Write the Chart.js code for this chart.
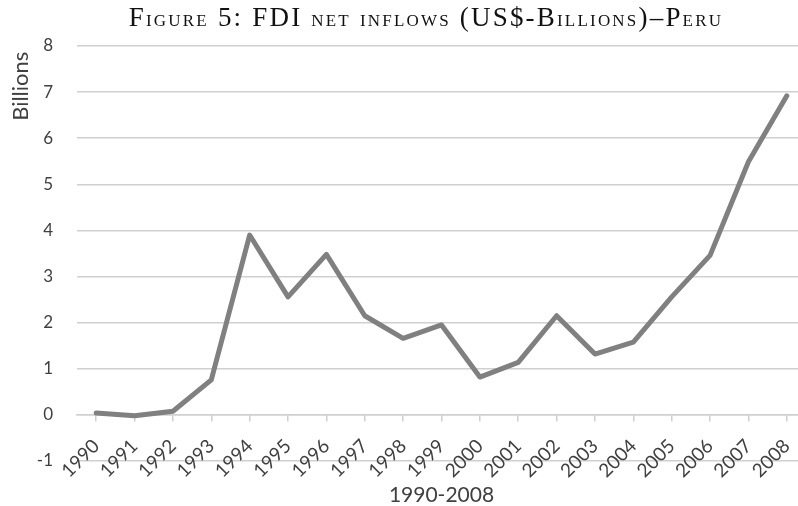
<!DOCTYPE html>
<html>
<head>
<meta charset="utf-8">
<script src="https://cdn.jsdelivr.net/npm/chart.js@4.4.1/dist/chart.umd.min.js"></script>
<style>
  html, body { margin: 0; padding: 0; background: #fff; overflow: hidden; }
  canvas { display: block; }
</style>
</head>
<body>
<canvas id="fdi-chart" width="808" height="506"></canvas>
<script>
// FDI net inflows into Peru, US$ billions
const years = ['1990', '1991', '1992', '1993', '1994', '1995', '1996', '1997', '1998', '1999',
               '2000', '2001', '2002', '2003', '2004', '2005', '2006', '2007', '2008'];
const fdiInflows = [0.04, -0.02, 0.08, 0.76, 3.90, 2.56, 3.48, 2.15, 1.66, 1.95,
                    0.82, 1.14, 2.15, 1.32, 1.58, 2.56, 3.46, 5.49, 6.92];
const yMin = -1;
const yMax = 8;

const chartTitle = 'Figure 5: FDI net inflows (US$-Billions)–Peru';
const yAxisTitle = 'Billions\u00a0';
const xAxisTitle = '1990-2008';

const tickFont = { family: 'Lato', size: 17 };
const yearFont = { family: 'Lato', size: 19 };
const labelColor = '#404040';
const gridColor = '#d0d0d0';

// canvas can't do small caps, so lowercase letters are drawn as smaller capitals
const smallCapsTitle = {
    id: 'smallCapsTitle',
    afterDraw(chart) {
        const ctx = chart.ctx;
        const bigFont = '27px "Liberation Serif"';
        const smallFont = '17px "Liberation Serif"';
        const spacing = 2.2;
        const parts = [];
        for (const ch of chartTitle) {
            const lower = ch !== ch.toUpperCase();
            parts.push({ text: ch.toUpperCase(), font: lower ? smallFont : bigFont });
        }
        ctx.save();
        let total = 0;
        parts.forEach(p => {
            ctx.font = p.font;
            p.w = ctx.measureText(p.text).width + spacing;
            total += p.w;
        });
        let x = 426 - total / 2;
        ctx.fillStyle = '#111';
        ctx.textBaseline = 'alphabetic';
        ctx.textAlign = 'left';
        parts.forEach(p => {
            ctx.font = p.font;
            ctx.fillText(p.text, x, 26);
            x += p.w;
        });
        ctx.restore();
    }
};

const ctx = document.getElementById('fdi-chart').getContext('2d');
const chart = new Chart(ctx, {
    type: 'line',
    data: {
        labels: years,
        datasets: [{
            label: 'FDI net inflows',
            data: fdiInflows,
            borderColor: '#808080',
            borderWidth: 5,
            borderJoinStyle: 'round',
            borderCapStyle: 'round',
            pointRadius: 0,
            tension: 0,
            fill: false
        }]
    },
    options: {
        responsive: false,
        animation: false,
        layout: { padding: { top: 46, left: 8, right: 2, bottom: 0 } },
        plugins: {
            legend: { display: false },
            tooltip: { enabled: false },
            title: {
                display: true,
                position: 'bottom',
                fullSize: false,
                text: xAxisTitle,
                color: labelColor,
                font: { family: 'Lato', size: 21, weight: 'normal', lineHeight: 1.0 },
                padding: { top: 24, bottom: 0 }
            }
        },
        scales: {
            x: {
                position: { y: 0 }, // axis line sits on zero
                offset: true,
                grid: {
                    drawOnChartArea: false,
                    drawTicks: true,
                    tickLength: 6,
                    color: gridColor,
                    lineWidth: 1.5
                },
                border: { display: true, color: gridColor, width: 1.5 },
                ticks: {
                    minRotation: 45,
                    maxRotation: 45,
                    autoSkip: false,
                    padding: 14,
                    color: labelColor,
                    font: yearFont
                },
                // labels hang below the zero line, so the axis takes no layout room
                afterFit(scale) {
                    scale.height = 0;
                    scale.paddingLeft = 0;
                    scale.paddingRight = 0;
                }
            },
            y: {
                min: yMin,
                max: yMax,
                ticks: { stepSize: 1, padding: 24, color: labelColor, font: tickFont },
                grid: { color: gridColor, lineWidth: 1.5, drawTicks: false },
                border: { display: false },
                title: {
                    display: true,
                    text: yAxisTitle,
                    align: 'end',
                    color: labelColor,
                    font: { family: 'Lato', size: 22, weight: 'normal' },
                    padding: 0
                },
                afterFit(scale) { scale.width = 69; }
            }
        }
    },
    plugins: [smallCapsTitle]
});
</script>
</body>
</html>
